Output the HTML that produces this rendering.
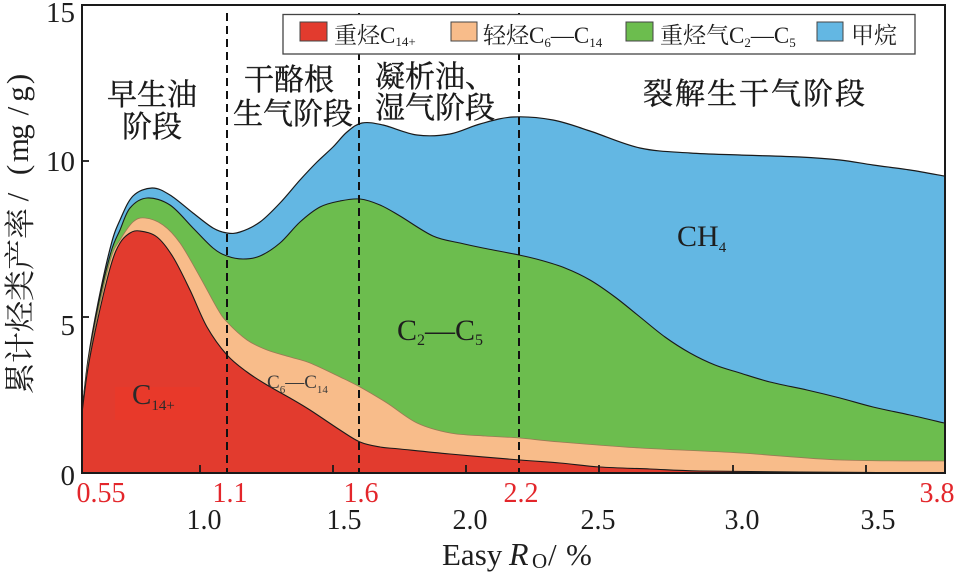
<!DOCTYPE html>
<html>
<head>
<meta charset="utf-8">
<style>
  html,body{margin:0;padding:0;background:#fff;}
  body{width:956px;height:572px;overflow:hidden;}
  svg{display:block;}
  text{font-family:"Liberation Serif","Noto Serif CJK SC",serif;}
</style>
</head>
<body>
<svg id="chart" width="956" height="572" viewBox="0 0 956 572" xmlns="http://www.w3.org/2000/svg" fill="#1e1e1e">
  <rect x="0" y="0" width="956" height="572" fill="#fff"/>

  <!-- stacked layers (top curve points, then bottom corners) -->
  <g id="layers">
    <polyline class="L" fill="#63b7e3" stroke="#1a1a1a" stroke-width="1.2"
      points="82,413 88,360 98,303 111,245 120,220 133,196 152,188 170,195 193,213 213,228 227,233 240,232 260,222 280,203 300,180 317,162 333,147 347,132 362,123 383,125 417,135 450,134 480,124 513,117 553,120 590,131 640,148 690,153 740,155 800,157 840,160 873,165 910,170 944,176 944,473 82,473"/>
    <polyline class="L" fill="#6cbd4e" stroke="#1a1a1a" stroke-width="1.1"
      points="82,413 88,362 98,306 111,252 120,230 130,208 147,198 170,205 193,228 213,248 227,256 243,259 260,256 280,243 300,222 320,207 340,201 360,199 380,205 400,216 433,236 460,243 483,248 519,255 540,260 565,268 590,280 615,297 640,317 665,337 690,353 715,365 740,373 770,382 807,390 840,398 873,407 910,415 944,423 944,473 82,473"/>
    <polyline class="L" fill="#f8bc8a" stroke="#9a7a55" stroke-width="0.8"
      points="82,413 88,364 98,312 111,258 120,240 133,222 145,218 163,225 180,243 200,277 217,308 227,322 247,340 267,350 290,357 310,363 340,377 360,387 387,403 417,423 450,433 485,436 519,438 560,442 640,448 740,453 840,460 944,461 944,473 82,473"/>
    <polyline class="L" fill="#e23b2e" stroke="#1a1a1a" stroke-width="1.1"
      points="82,413 88,368 98,318 111,265 120,243 130,233 140,231 157,237 173,257 190,290 207,327 227,355 247,372 267,385 290,398 310,410 340,430 360,442 380,447 400,449 450,454 520,460 560,463 600,467 650,469 700,471 800,472 944,473 944,473 82,473"/>
  </g>

  <!-- C14+ highlight -->
  <rect x="115" y="387" width="85" height="33" fill="#e8392a"/>

  <!-- dashed stage lines -->
  <g stroke="#111" stroke-width="2" stroke-dasharray="8 5" fill="none">
    <line x1="227" y1="13" x2="227" y2="473"/>
    <line x1="359" y1="13" x2="359" y2="473"/>
    <line x1="519" y1="13" x2="519" y2="473"/>
  </g>

  <!-- in-chart labels -->
  <text x="132" y="404" font-size="29" fill="#2a2a2a">C<tspan font-size="15" dy="6">14+</tspan></text>
  <text x="267" y="388" font-size="19" fill="#3a3a3a">C<tspan font-size="11" dy="5">6</tspan><tspan dy="-5">—C</tspan><tspan font-size="11" dy="5">14</tspan></text>
  <text x="397" y="340" font-size="30" fill="#1e1e1e">C<tspan font-size="16" dy="5">2</tspan><tspan dy="-5">—C</tspan><tspan font-size="16" dy="5">5</tspan></text>
  <text x="677" y="246" font-size="30" fill="#1e1e1e">CH<tspan font-size="15" dy="6">4</tspan></text>

  <!-- stage labels -->
  <g font-size="30" fill="#1a1a1a" stroke="#1a1a1a" stroke-width="0.4">
    <text x="152" y="105" text-anchor="middle">早生油</text>
    <text x="152" y="137" text-anchor="middle">阶段</text>
    <text x="289" y="90" text-anchor="middle">干酪根</text>
    <text x="293" y="124" text-anchor="middle">生气阶段</text>
    <text x="375" y="87">凝析油、</text>
    <text x="375" y="118">湿气阶段</text>
    <text x="643" y="104" letter-spacing="2">裂解生干气阶段</text>
  </g>

  <!-- legend -->
  <rect x="283" y="14.5" width="632" height="39.5" fill="#fff" stroke="#444" stroke-width="1.3"/>
  <g stroke="#444" stroke-width="1">
    <rect x="300" y="22" width="27" height="19" fill="#e23b2e"/>
    <rect x="451" y="22" width="26" height="19" fill="#f8bc8a"/>
    <rect x="626" y="22" width="27" height="19" fill="#6cbd4e"/>
    <rect x="817" y="22" width="26" height="19" fill="#63b7e3"/>
  </g>
  <g font-size="23" fill="#1e1e1e">
    <text x="334" y="43">重烃C<tspan font-size="13" dy="3">14+</tspan></text>
    <text x="483" y="43">轻烃C<tspan font-size="13" dy="4">6</tspan><tspan dy="-4">—C</tspan><tspan font-size="13" dy="4">14</tspan></text>
    <text x="660" y="43">重烃气C<tspan font-size="13" dy="4">2</tspan><tspan dy="-4">—C</tspan><tspan font-size="13" dy="4">5</tspan></text>
    <text x="851" y="43">甲烷</text>
  </g>

  <!-- axes frame -->
  <rect x="82" y="5" width="863" height="468" fill="none" stroke="#1a1a1a" stroke-width="2"/>

  <!-- ticks -->
  <g stroke="#1a1a1a" stroke-width="1.8">
    <line x1="200" y1="473" x2="200" y2="465"/>
    <line x1="333" y1="473" x2="333" y2="465"/>
    <line x1="466" y1="473" x2="466" y2="465"/>
    <line x1="599" y1="473" x2="599" y2="465"/>
    <line x1="733" y1="473" x2="733" y2="465"/>
    <line x1="866" y1="473" x2="866" y2="465"/>
    <line x1="82" y1="161" x2="89" y2="161"/>
    <line x1="82" y1="317" x2="89" y2="317"/>
  </g>

  <!-- y tick labels -->
  <g font-size="29" text-anchor="end" fill="#1e1e1e">
    <text x="75" y="22">15</text>
    <text x="75" y="171">10</text>
    <text x="75" y="335">5</text>
    <text x="75" y="485">0</text>
  </g>

  <!-- x tick labels red -->
  <g font-size="28" fill="#e3262b" text-anchor="middle">
    <text x="101" y="502">0.55</text>
    <text x="230" y="502">1.1</text>
    <text x="361" y="502">1.6</text>
    <text x="521" y="502">2.2</text>
    <text x="937" y="502">3.8</text>
  </g>
  <!-- x tick labels black -->
  <g font-size="28" fill="#1e1e1e" text-anchor="middle">
    <text x="204" y="529">1.0</text>
    <text x="344" y="529">1.5</text>
    <text x="470" y="529">2.0</text>
    <text x="598" y="529">2.5</text>
    <text x="742" y="529">3.0</text>
    <text x="878" y="529">3.5</text>
  </g>

  <!-- x axis title -->
  <text x="442" y="565" font-size="31" fill="#1e1e1e">Easy</text>
  <text x="509" y="565" font-size="32" font-style="italic" fill="#1e1e1e">R</text>
  <text x="532" y="568" font-size="21" fill="#1e1e1e">O</text>
  <text x="548" y="565" font-size="31" fill="#1e1e1e">/</text>
  <text x="566" y="565" font-size="31" fill="#1e1e1e">%</text>

  <!-- y axis title -->
  <text transform="translate(31,394) rotate(-90)" font-size="31" fill="#1e1e1e">累计烃类产率</text>
  <g font-size="31" fill="#1e1e1e" text-anchor="middle">
    <text transform="translate(28,197) rotate(-90)">/</text>
    <text transform="translate(28,170) rotate(-90)">(</text>
    <text transform="translate(28,150) rotate(-90)">m</text>
    <text transform="translate(28,132) rotate(-90)">g</text>
    <text transform="translate(28,111) rotate(-90)">/</text>
    <text transform="translate(28,94) rotate(-90)">g</text>
    <text transform="translate(28,79) rotate(-90)">)</text>
  </g>
</svg>
<script>
(function(){
  var NS="http://www.w3.org/2000/svg";
  function smooth(p){
    var d="M"+p[0][0]+","+p[0][1];
    for(var i=0;i<p.length-1;i++){
      var p0=p[i-1]||p[i],p1=p[i],p2=p[i+1],p3=p[i+2]||p2;
      var c1x=p1[0]+(p2[0]-p0[0])/6,c1y=p1[1]+(p2[1]-p0[1])/6;
      var c2x=p2[0]-(p3[0]-p1[0])/6,c2y=p2[1]-(p3[1]-p1[1])/6;
      d+=" C"+c1x.toFixed(2)+","+c1y.toFixed(2)+" "+c2x.toFixed(2)+","+c2y.toFixed(2)+" "+p2[0]+","+p2[1];
    }
    return d;
  }
  var polys=document.querySelectorAll("polyline.L");
  for(var k=0;k<polys.length;k++){
    var pl=polys[k];
    var pts=pl.getAttribute("points").trim().split(/\s+/).map(function(s){return s.split(",").map(Number);});
    var curve=pts.slice(0,-2);
    var d=smooth(curve);
    var area=document.createElementNS(NS,"path");
    area.setAttribute("d",d+" L944,473 L82,473 Z");
    area.setAttribute("fill",pl.getAttribute("fill"));
    area.setAttribute("stroke","none");
    var line=document.createElementNS(NS,"path");
    line.setAttribute("d",d);
    line.setAttribute("fill","none");
    line.setAttribute("stroke",pl.getAttribute("stroke"));
    line.setAttribute("stroke-width",pl.getAttribute("stroke-width"));
    pl.parentNode.insertBefore(area,pl);
    pl.parentNode.insertBefore(line,pl);
    pl.parentNode.removeChild(pl);
  }
})();
</script>
</body>
</html>
